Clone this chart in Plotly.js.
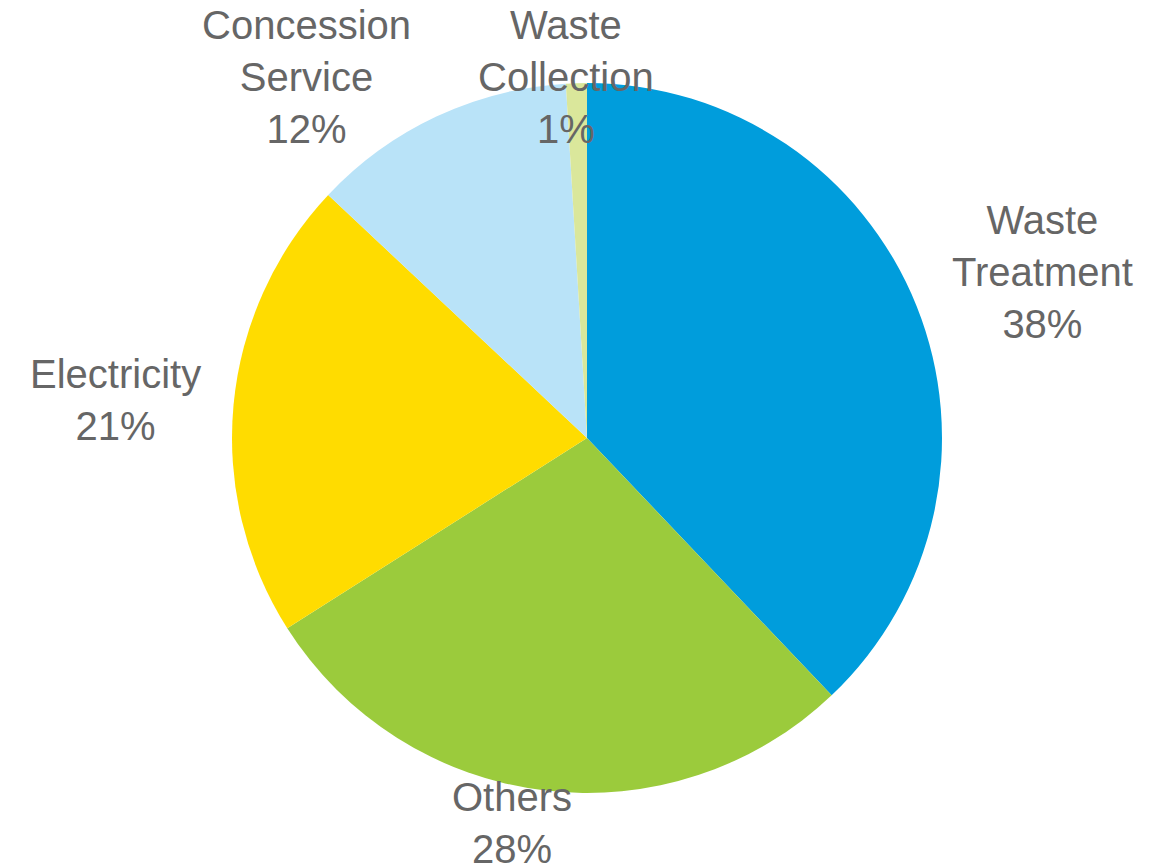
<!DOCTYPE html>
<html>
<head>
<meta charset="utf-8">
<script src="https://cdn.plot.ly/plotly-3.0.1.min.js"></script>
<style>
  html, body { margin: 0; padding: 0; background: #ffffff; }
  #chart { width: 1173px; height: 868px; }
</style>
</head>
<body>
<div id="chart"></div>
<script>
// Data (clockwise from 12 o'clock)
const categories = ["Waste<br>Treatment", "Others", "Electricity", "Concession<br>Service", "Waste<br>Collection"];
const shares = [37.9, 28.1, 21.0, 12.05, 0.95];
const sliceColors = ["#009DDC", "#9BCB3C", "#FFDC00", "#B9E3F8", "#DAE79B"];

// Label placement (layout only, pixel centres of each label block)
const labelPos = [[1042, 272], [512, 823], [115, 400], [306, 77], [566, 77]];

const W = 1173, H = 868;
const cx = 587, cy = 438, R = 355;

const total = shares.reduce((a, b) => a + b, 0);

const trace = {
  type: "pie",
  labels: categories,
  values: shares,
  sort: false,
  direction: "clockwise",
  rotation: 0,
  marker: { colors: sliceColors, line: { width: 0 } },
  textinfo: "none",
  hoverinfo: "label+percent",
  showlegend: false,
  domain: {
    x: [(cx - R) / W, (cx + R) / W],
    y: [1 - (cy + R) / H, 1 - (cy - R) / H]
  }
};

const annotations = categories.map((c, i) => ({
  xref: "paper", yref: "paper",
  x: labelPos[i][0] / W,
  y: 1 - labelPos[i][1] / H,
  xanchor: "center", yanchor: "middle",
  showarrow: false,
  align: "center",
  text: c + "<br>" + Math.round(shares[i] / total * 100) + "%",
  font: { family: "Liberation Sans, Arial, sans-serif", size: 40, color: "#666666" }
}));

const layout = {
  width: W, height: H,
  margin: { l: 0, r: 0, t: 0, b: 0 },
  paper_bgcolor: "#ffffff",
  plot_bgcolor: "#ffffff",
  showlegend: false,
  annotations: annotations
};

Plotly.newPlot("chart", [trace], layout, { displayModeBar: false, staticPlot: true });
</script>
</body>
</html>
